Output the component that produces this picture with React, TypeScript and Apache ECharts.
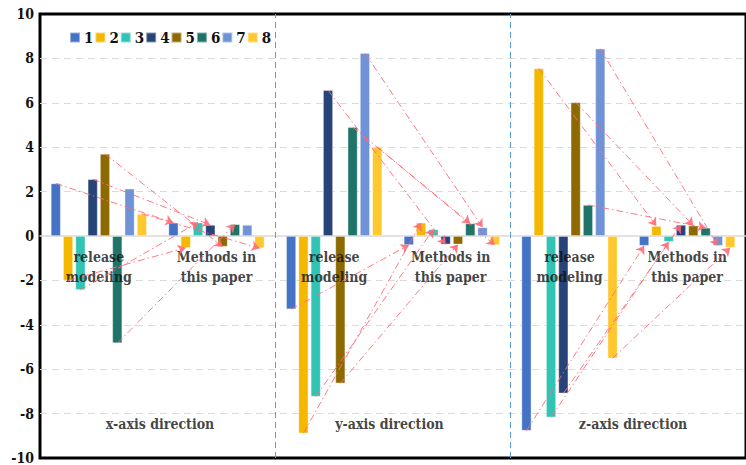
import React, { useEffect, useRef } from "react";
import * as echarts from "echarts";

// categories: release modeling / methods for x, y, z directions
const categories = ["x-release", "x-methods", "y-release", "y-methods", "z-release", "z-methods"];
const seriesNames = ["1", "2", "3", "4", "5", "6", "7", "8"];
const colors = ["#4472C4", "#F4B800", "#31C3B4", "#264478", "#8C6A00", "#1E7469", "#6F93D6", "#FFC82E"];

// values per group (series 1..8)
const xRelease = [2.37, -2.0, -2.43, 2.56, 3.7, -4.83, 2.13, 1.0];
const xMethods = [0.6, -0.53, 0.61, 0.5, -0.48, 0.53, 0.5, -0.55];
const yRelease = [-3.3, -8.89, -7.24, 6.57, -6.64, 4.9, 8.24, 4.02];
const yMethods = [-0.41, 0.6, 0.3, -0.38, -0.38, 0.57, 0.39, -0.41];
const zRelease = [-8.77, 7.55, -8.17, -7.09, 6.02, 1.4, 8.44, -5.51];
const zMethods = [-0.44, 0.45, -0.26, 0.5, 0.47, 0.37, -0.44, -0.53];

// which series have arrows in each direction (release -> methods)
const xArrows = [1, 2, 3, 4, 5, 6, 8];
const yArrows = [1, 2, 3, 4, 5, 6, 7, 8];
const zArrows = [1, 2, 3, 4, 5, 6, 7, 8];

// annotation texts
const groupLabels = ["release\nmodeling", "Methods in\nthis paper"];
const directionLabels = ["x-axis direction", "y-axis direction", "z-axis direction"];
const groupLabelX = [0.5, 1.5, 2.5, 3.49, 4.5, 5.5];
const groupLabelY = -1.4;
const directionLabelX = [1.02, 2.97, 5.04];
const directionLabelY = -8.47;
const dividerX = [2, 4];

const FONT = "DejaVu Serif Condensed, DejaVu Serif";

export default function App() {
  const ref = useRef<HTMLDivElement>(null);
  useEffect(() => {
    document.body.style.margin = "0";
    if (!ref.current) return;
    const chart = echarts.init(ref.current, undefined, { renderer: "svg" });

    const groups = [
      { rel: xRelease, meth: xMethods, arrows: xArrows, ri: 0, mi: 1 },
      { rel: yRelease, meth: yMethods, arrows: yArrows, ri: 2, mi: 3 },
      { rel: zRelease, meth: zMethods, arrows: zArrows, ri: 4, mi: 5 },
    ];

    const barSeries = seriesNames.map((name, i) => {
      const data = [xRelease[i], xMethods[i], yRelease[i], yMethods[i], zRelease[i], zMethods[i]];
      const lines: any[] = [];
      groups.forEach((g) => {
        if (g.arrows.includes(i + 1)) {
          lines.push([{ coord: [g.ri, g.rel[i]] }, { coord: [g.mi, g.meth[i]] }]);
        }
      });
      return {
        name,
        type: "bar",
        xAxisIndex: 0,
        yAxisIndex: 0,
        barWidth: 10,
        barGap: "23%",
        data,
        itemStyle: { color: colors[i], borderColor: "rgba(255,255,255,0.45)", borderWidth: 0.8 },
        emphasis: { disabled: true },
        markLine: {
          silent: true,
          z: 10,
          symbol: ["none", "arrow"],
          symbolSize: 8,
          label: { show: false },
          emphasis: { disabled: true },
          lineStyle: { color: "#FF6B78", width: 1, type: [7, 3, 1.5, 3], opacity: 0.9 },
          data: lines,
        },
      };
    });

    const textData: any[] = [];
    groupLabelX.forEach((x, k) => {
      textData.push({ value: [x, groupLabelY], name: groupLabels[k % 2], fs: 14 });
    });
    directionLabelX.forEach((x, k) => {
      textData.push({ value: [x, directionLabelY], name: directionLabels[k], fs: 14 });
    });

    const textSeries = {
      type: "scatter",
      name: "annotations",
      xAxisIndex: 1,
      yAxisIndex: 0,
      symbolSize: 1,
      silent: true,
      z: 5,
      itemStyle: { color: "transparent" },
      data: textData.map((d) => ({
        value: d.value,
        name: d.name,
        label: {
          show: true,
          position: "inside",
          formatter: d.name,
          color: "#111",
          fontFamily: FONT,
          fontWeight: "bold",
          fontSize: d.fs,
          lineHeight: 20,
          align: "center",
          verticalAlign: "middle",
        },
      })),
      markLine: {
        silent: true,
        symbol: ["none", "none"],
        label: { show: false },
        emphasis: { disabled: true },
        lineStyle: { color: "#5B9BD5", width: 1, type: [6, 4] },
        data: dividerX.map((x) => ({ xAxis: x })),
      },
    };

    const splitColors = ["transparent", "#DCDCDC", "#DCDCDC", "#DCDCDC", "#DCDCDC", "transparent", "#DCDCDC", "#DCDCDC", "#DCDCDC", "#DCDCDC", "transparent"];

    chart.setOption({
      animation: false,
      textStyle: { fontFamily: FONT },
      grid: {
        left: 40,
        right: -11,
        top: 14,
        bottom: 7,
        show: true,
        borderColor: "#000",
        borderWidth: 3,
        containLabel: false,
      },
      legend: {
        data: seriesNames,
        left: 64,
        top: 25,
        icon: "rect",
        itemWidth: 10,
        itemHeight: 10,
        itemGap: 1,
        textStyle: { fontFamily: FONT, fontWeight: "bold", fontSize: 15, color: "#111", padding: [0, 0, 0, -1] },
        selectedMode: false,
      },
      xAxis: [
        {
          type: "category",
          data: categories,
          axisLine: { onZero: true, lineStyle: { color: "#D9D9D9", width: 1.5 } },
          axisTick: { show: false },
          axisLabel: { show: false },
          splitLine: { show: false },
        },
        {
          type: "value",
          min: 0,
          max: 6,
          show: false,
          splitLine: { show: false },
        },
      ],
      yAxis: {
        type: "value",
        min: -10,
        max: 10,
        interval: 2,
        axisLine: { show: false },
        axisTick: { show: false },
        axisLabel: { fontFamily: FONT, fontWeight: "bold", fontSize: 14, color: "#111", margin: 6 },
        splitLine: { show: true, lineStyle: { color: splitColors, type: [7, 5], width: 1 } },
      },
      series: [...barSeries, textSeries],
    });

    return () => chart.dispose();
  }, []);

  return <div ref={ref} style={{ width: 746, height: 465 }} />;
}
